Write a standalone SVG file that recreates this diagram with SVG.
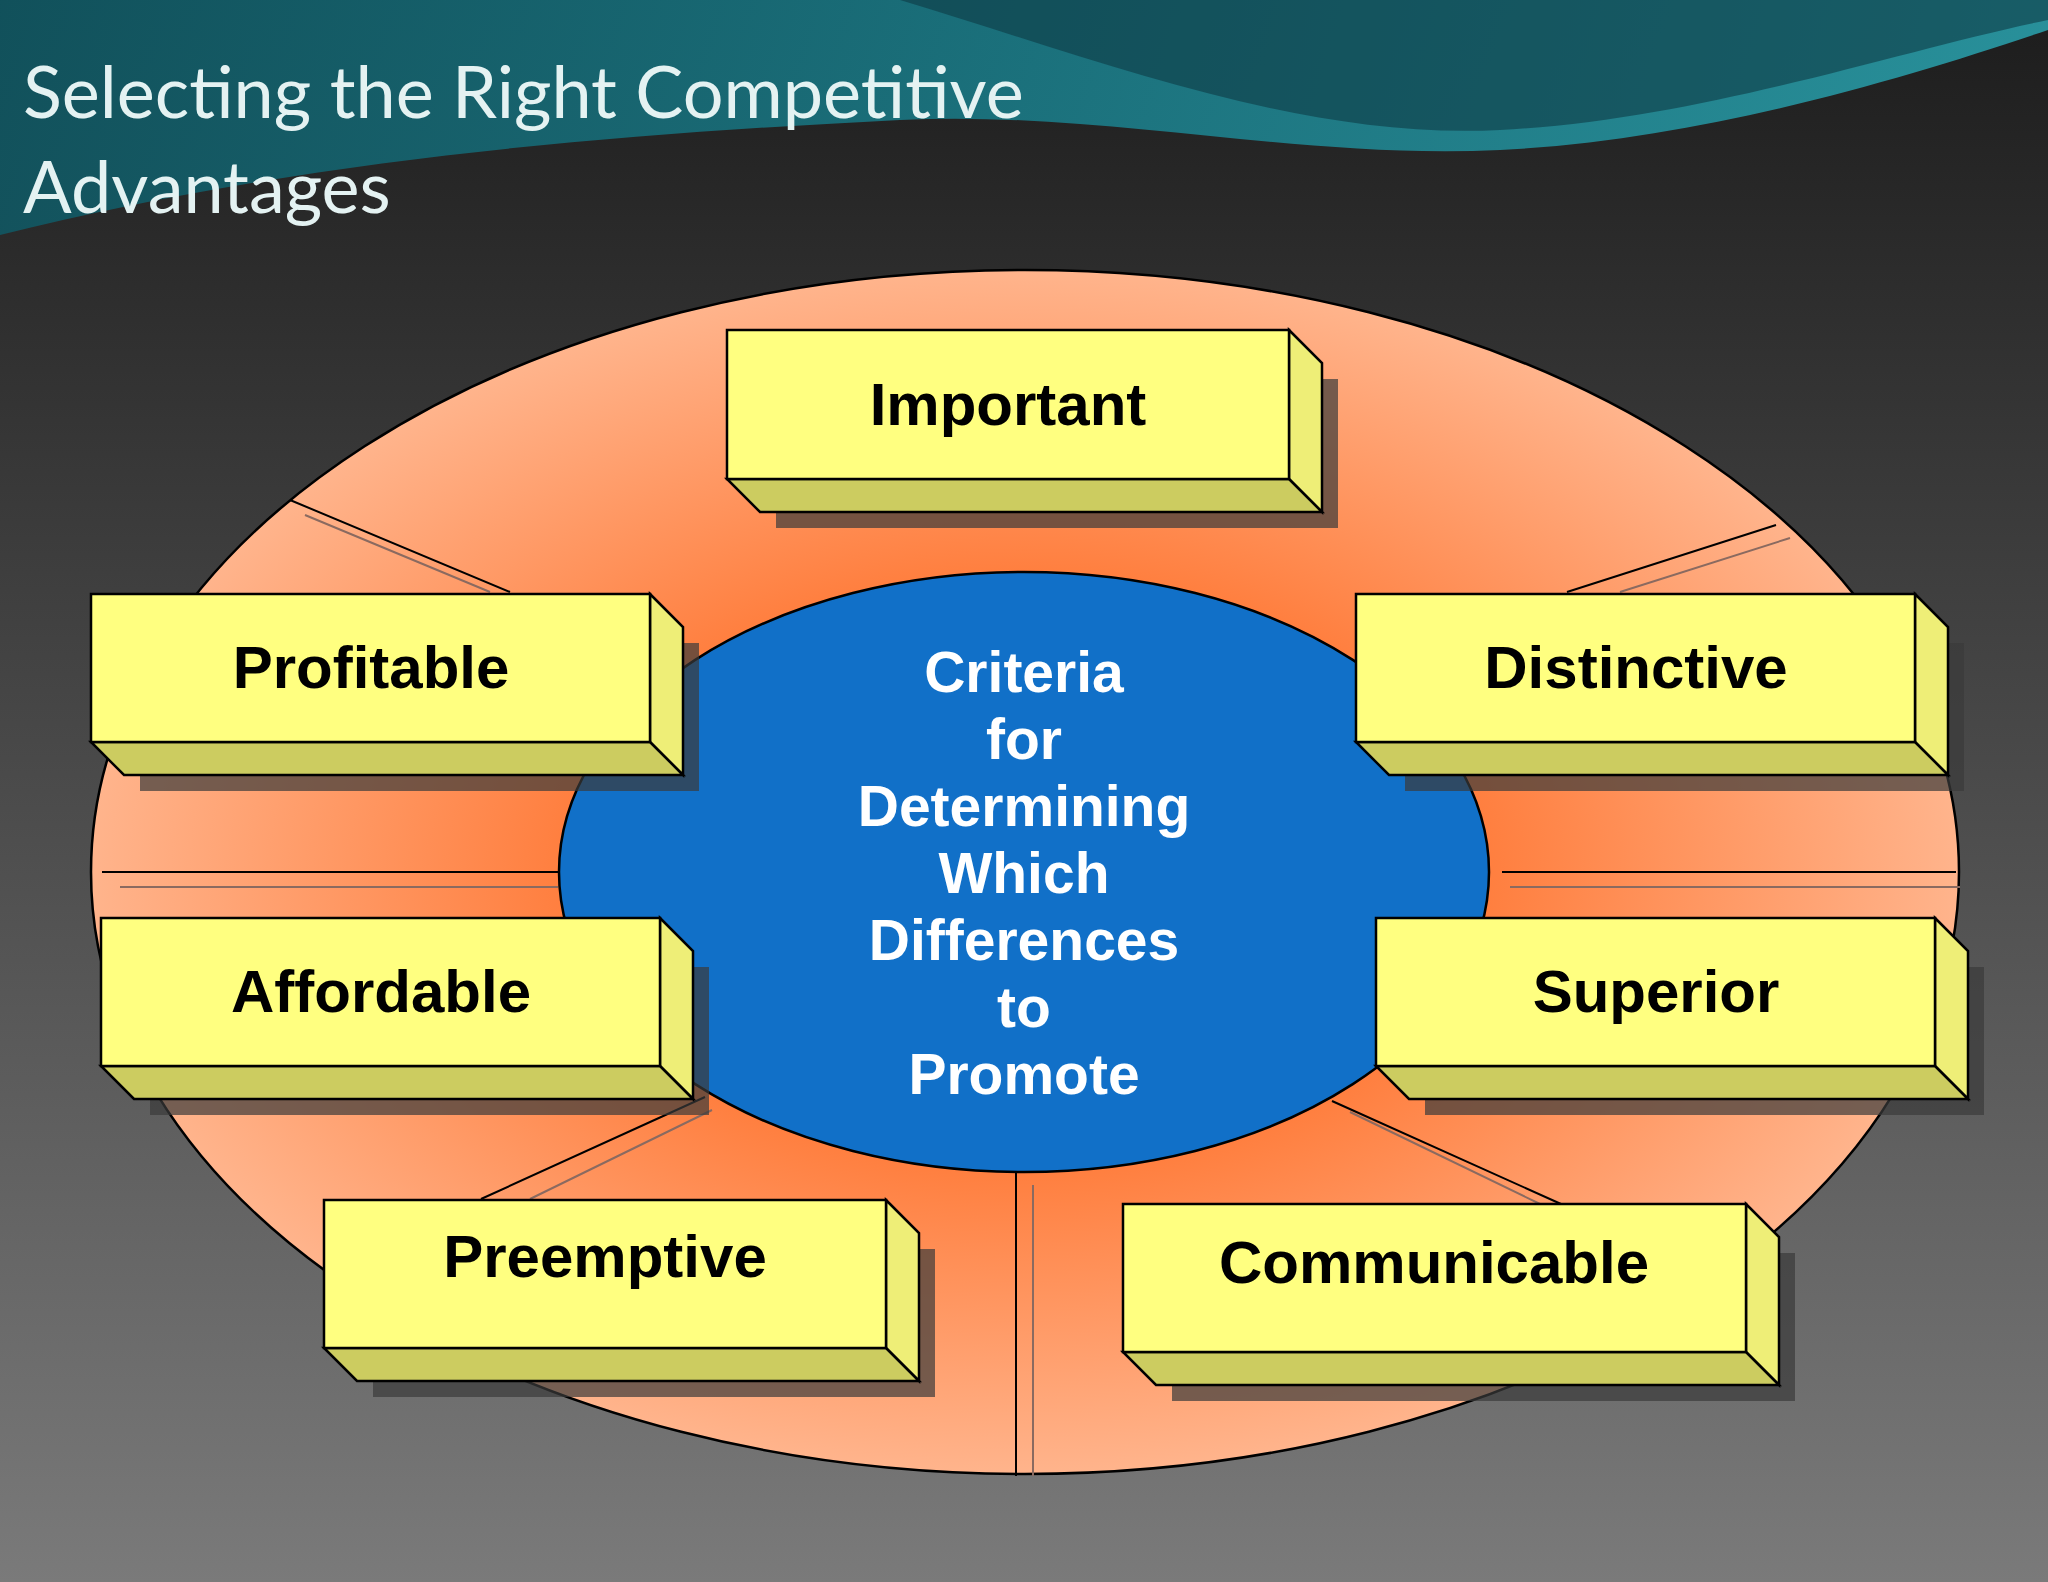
<svg xmlns="http://www.w3.org/2000/svg" width="2048" height="1582" viewBox="0 0 2048 1582">
<defs>
<linearGradient id="bg" x1="0" y1="0" x2="0" y2="1"><stop offset="0" stop-color="#1c1c1c"/><stop offset="1" stop-color="#7a7a7a"/></linearGradient>
<linearGradient id="wave" x1="0" y1="0" x2="1" y2="0"><stop offset="0" stop-color="#0f5a66"/><stop offset="0.5" stop-color="#1a7f8c"/><stop offset="1" stop-color="#2aa4b0"/></linearGradient>
<radialGradient id="org" cx="0.5" cy="0.5" r="0.5"><stop offset="0.45" stop-color="#ff7a38"/><stop offset="1" stop-color="#ffb48c"/></radialGradient>
<style>
.box .f{fill:#ffff80;stroke:#000;stroke-width:2.5}
.box .s{fill:#eeee77;stroke:#000;stroke-width:2.5}
.box .b{fill:#cccc60;stroke:#000;stroke-width:2.5}
.box .sh{fill:#3a3a3a;opacity:0.7}
.bt{font-family:"Liberation Sans",Arial,sans-serif;font-weight:bold;font-size:60px;fill:#000;text-anchor:middle}
.ct{font-family:"Liberation Sans",Arial,sans-serif;font-weight:bold;font-size:57px;fill:#fff;text-anchor:middle}
.dl{stroke:#000;stroke-width:2;fill:none}
.dl2{stroke:#8a6a60;stroke-width:2;fill:none}
</style>
</defs>
<rect width="2048" height="1582" fill="url(#bg)"/>
<path d="M0,0 H2048 V30 C1900,80 1700,140 1500,150 C1300,160 1100,110 900,120 C600,135 300,160 0,235 Z" fill="url(#wave)" opacity="0.85"/>
<path d="M900,0 C1100,60 1300,140 1500,130 C1700,120 1900,50 2048,20 V0 Z" fill="#0d3a44" opacity="0.6"/>
<text x="23" y="118" font-family="Lato,'Open Sans',sans-serif" font-size="72" fill="#e4f2f2">Selecting the Right Competitive</text>
<text x="23" y="213" font-family="Lato,'Open Sans',sans-serif" font-size="72" fill="#e4f2f2">Advantages</text>
<g id="outer"><ellipse cx="1025" cy="872" rx="934" ry="602" fill="url(#org)" stroke="#000" stroke-width="2.5"/></g>
<g id="connectors">
<path class="dl" d="M290,500 L510,592 M1776,525 L1567,592 M102,872 H558 M1502,872 H1956 M481,1199 L705,1097 M1332,1101 L1561,1204 M1016,1173 V1476"/>
<path class="dl2" d="M305,515 L490,592 M1790,538 L1620,592 M120,887 H558 M1510,887 H1960 M530,1199 L712,1110 M1350,1112 L1540,1204 M1033,1185 V1476"/>
</g>
<g id="center"><ellipse cx="1024" cy="872" rx="465" ry="300" fill="#1170c8" stroke="#000" stroke-width="2.5"/>
<text class="ct" x="1024" y="692">Criteria</text><text class="ct" x="1024" y="759">for</text><text class="ct" x="1024" y="826">Determining</text><text class="ct" x="1024" y="893">Which</text><text class="ct" x="1024" y="960">Differences</text><text class="ct" x="1024" y="1027">to</text><text class="ct" x="1024" y="1094">Promote</text></g>
<g id="important" class="box" transform="translate(727,330)"><rect class="sh" x="49" y="49" width="562" height="149"/><polygon class="s" points="562,0 595,33 595,182 562,149"/><polygon class="b" points="0,149 562,149 595,182 33,182"/><rect class="f" width="562" height="149"/><text class="bt" x="281" y="95">Important</text></g>
<g id="profitable" class="box" transform="translate(91,594)"><rect class="sh" x="49" y="49" width="559" height="148"/><polygon class="s" points="559,0 592,33 592,181 559,148"/><polygon class="b" points="0,148 559,148 592,181 33,181"/><rect class="f" width="559" height="148"/><text class="bt" x="280" y="94">Profitable</text></g>
<g id="distinctive" class="box" transform="translate(1356,594)"><rect class="sh" x="49" y="49" width="559" height="148"/><polygon class="s" points="559,0 592,33 592,181 559,148"/><polygon class="b" points="0,148 559,148 592,181 33,181"/><rect class="f" width="559" height="148"/><text class="bt" x="280" y="94">Distinctive</text></g>
<g id="affordable" class="box" transform="translate(101,918)"><rect class="sh" x="49" y="49" width="559" height="148"/><polygon class="s" points="559,0 592,33 592,181 559,148"/><polygon class="b" points="0,148 559,148 592,181 33,181"/><rect class="f" width="559" height="148"/><text class="bt" x="280" y="94">Affordable</text></g>
<g id="superior" class="box" transform="translate(1376,918)"><rect class="sh" x="49" y="49" width="559" height="148"/><polygon class="s" points="559,0 592,33 592,181 559,148"/><polygon class="b" points="0,148 559,148 592,181 33,181"/><rect class="f" width="559" height="148"/><text class="bt" x="280" y="94">Superior</text></g>
<g id="preemptive" class="box" transform="translate(324,1200)"><rect class="sh" x="49" y="49" width="562" height="148"/><polygon class="s" points="562,0 595,33 595,181 562,148"/><polygon class="b" points="0,148 562,148 595,181 33,181"/><rect class="f" width="562" height="148"/><text class="bt" x="281" y="77">Preemptive</text></g>
<g id="communicable" class="box" transform="translate(1123,1204)"><rect class="sh" x="49" y="49" width="623" height="148"/><polygon class="s" points="623,0 656,33 656,181 623,148"/><polygon class="b" points="0,148 623,148 656,181 33,181"/><rect class="f" width="623" height="148"/><text class="bt" x="311" y="79">Communicable</text></g>
</svg>
